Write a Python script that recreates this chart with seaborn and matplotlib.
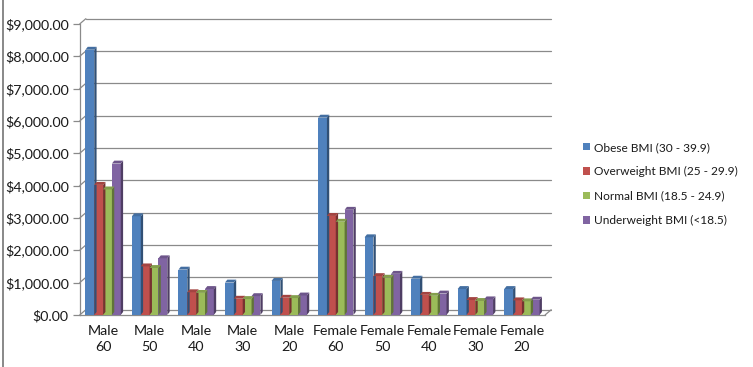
import matplotlib
matplotlib.use("Agg")
import matplotlib.pyplot as plt
import matplotlib.patches as mpatches
import matplotlib.lines as mlines
import matplotlib.colors as mcolors
from matplotlib import font_manager
import numpy as np
import pandas as pd
import seaborn as sns

categories = ["Male\n60", "Male\n50", "Male\n40", "Male\n30", "Male\n20",
              "Female\n60", "Female\n50", "Female\n40", "Female\n30", "Female\n20"]
series = ["Obese BMI (30 - 39.9)", "Overweight BMI (25 - 29.9)",
          "Normal BMI (18.5 - 24.9)", "Underweight BMI (<18.5)"]
obese = [8200, 3050, 1400, 1000, 1050, 6100, 2400, 1120, 800, 800]
overweight = [4020, 1500, 700, 500, 530, 3060, 1200, 620, 460, 450]
normal = [3880, 1450, 680, 490, 520, 2880, 1150, 590, 430, 420]
underweight = [4680, 1750, 800, 580, 600, 3250, 1270, 660, 480, 470]
yticks = [0, 1000, 2000, 3000, 4000, 5000, 6000, 7000, 8000, 9000]
colors = ["#4F81BD", "#C0504D", "#9BBB59", "#8064A2"]

rows = []
for s, vals in zip(series, [obese, overweight, normal, underweight]):
    for c, v in zip(categories, vals):
        rows.append({"cat": c, "series": s, "value": v})
df = pd.DataFrame(rows)

sns.set_theme(style="white")
plt.rcParams["font.family"] = ["Lato", "DejaVu Sans"]
FS = 10.3
TXT = "#1a1a1a"
GRID = "#8a8a8a"

leg_font = font_manager.FontProperties(family="Lato", size=8.6)

fig = plt.figure(figsize=(7.53, 3.67), dpi=100)
ax = fig.add_axes([0.106, 0.142, 0.618, 0.793])
sns.barplot(data=df, x="cat", y="value", hue="series", palette=colors,
            width=0.76, saturation=1, ax=ax, legend=True, zorder=3,
            linewidth=0, edgecolor="none")

n = len(categories)
ax.set_ylim(0, 9000)
ax.set_xlim(-0.5, n - 0.5)
ax.set_yticks(yticks)
ax.set_yticklabels([f"${v:,.2f}" for v in yticks], fontsize=FS, color=TXT)
ax.set_xticks(range(n))
ax.set_xticklabels(categories, fontsize=FS, color=TXT, linespacing=1.45)
ax.set_xlabel("")
ax.set_ylabel("")
ax.set_xticks(np.arange(-0.5, n, 1.0), minor=True)
ax.tick_params(axis="x", which="major", length=0, pad=7)
ax.tick_params(axis="x", which="minor", length=5, color=GRID, width=0.9, direction="out")
ax.tick_params(axis="y", which="major", length=5, color=GRID, width=0.9, direction="out", left=True, pad=3)
ax.yaxis.grid(False)
for side in ["top", "right"]:
    ax.spines[side].set_visible(False)
for side in ["left", "bottom"]:
    ax.spines[side].set_color(GRID)
    ax.spines[side].set_linewidth(0.9)

# back-wall gridlines (pseudo-3D depth offset)
ddx = 0.13   # category units (~6 px)
ddy = 160    # value units (~5 px)
for v in yticks:
    ax.plot([-0.5 + ddx, n - 0.5 + ddx], [v + ddy, v + ddy], color=GRID, lw=0.9,
            zorder=1, clip_on=False)
    ax.plot([-0.5, -0.5 + ddx], [v, v + ddy], color=GRID, lw=0.9, zorder=1, clip_on=False)
ax.plot([n - 0.5, n - 0.5 + ddx], [0, ddy], color=GRID, lw=0.9, zorder=1, clip_on=False)

# pseudo-3D side and top faces derived from bar patches
dx = 0.05
dy = 90
for p in list(ax.patches):
    if p.get_height() <= 0:
        continue
    x0 = p.get_x(); w = p.get_width(); h = p.get_height()
    fc = np.array(mcolors.to_rgb(p.get_facecolor()))
    side = mpatches.Polygon([[x0 + w, 0], [x0 + w + dx, dy], [x0 + w + dx, h + dy], [x0 + w, h]],
                            closed=True, facecolor=fc * 0.62, edgecolor="none", zorder=3)
    top = mpatches.Polygon([[x0, h], [x0 + dx, h + dy], [x0 + w + dx, h + dy], [x0 + w, h]],
                           closed=True, facecolor=fc * 0.85, edgecolor="none", zorder=3)
    ax.add_patch(side)
    ax.add_patch(top)

handles, labels = ax.get_legend_handles_labels()
ax.legend(handles, labels, loc="center left", bbox_to_anchor=(1.082, 0.45), frameon=False,
          prop=leg_font, handlelength=0.58, handleheight=0.58, handletextpad=0.35,
          labelspacing=1.12, labelcolor=TXT, borderpad=0, borderaxespad=0)

fig.add_artist(mlines.Line2D([0.0035, 0.0035], [0, 1], transform=fig.transFigure,
                             color="#888888", linewidth=1.4))

fig.savefig("out.png", dpi=100, facecolor="white")
